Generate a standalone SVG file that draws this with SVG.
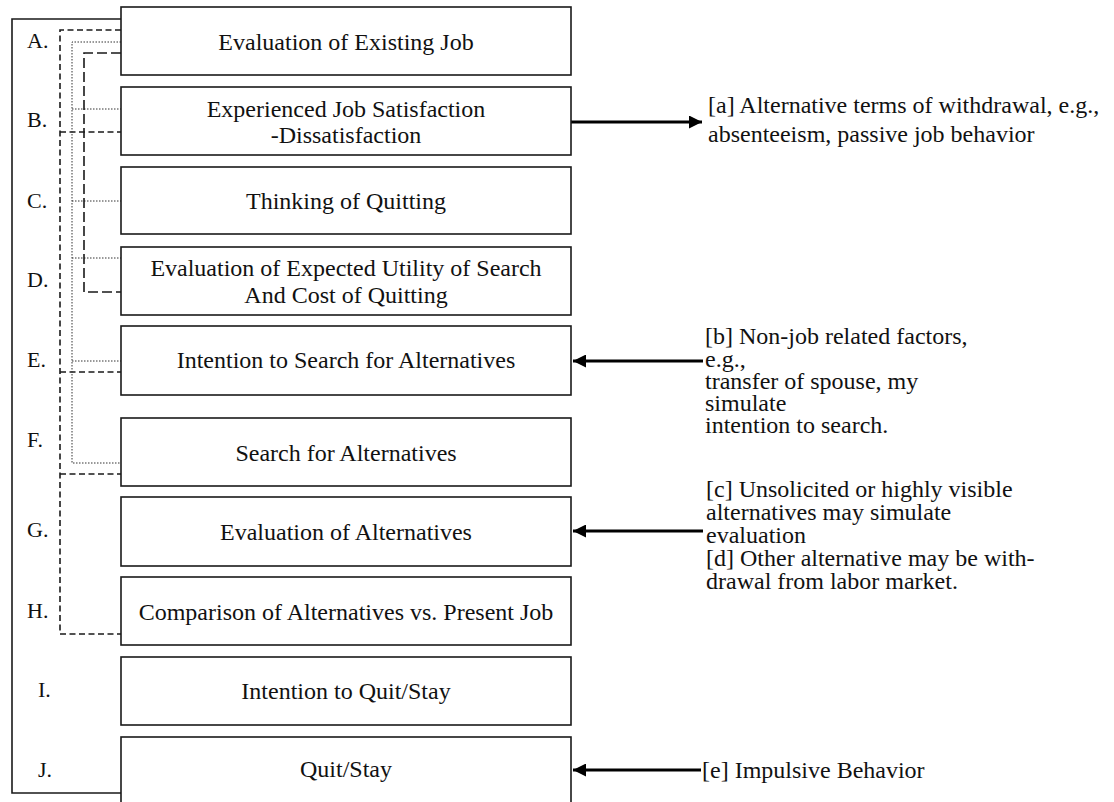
<svg xmlns="http://www.w3.org/2000/svg" width="1114" height="802" viewBox="0 0 1114 802">
<defs>
<style>
.box{fill:#fff;stroke:#1a1a1a;stroke-width:1.6}
.t{font-family:"Liberation Serif","Times New Roman",serif;font-size:24px;fill:#111}
.c{text-anchor:middle}
.lab{font-family:"Liberation Serif","Times New Roman",serif;font-size:22px;fill:#111}
.solid{fill:none;stroke:#1a1a1a;stroke-width:1.6}
.dash{fill:none;stroke:#1a1a1a;stroke-width:1.6;stroke-dasharray:6 3.5}
.dot{fill:none;stroke:#333;stroke-width:1;stroke-dasharray:1.5 1.5}
.ldash{fill:none;stroke:#1a1a1a;stroke-width:1.6;stroke-dasharray:10 4}
.arr{fill:none;stroke:#000;stroke-width:3.2}
</style>
<marker id="ah" viewBox="0 0 13 13" refX="13" refY="6.5" markerWidth="13" markerHeight="13" markerUnits="userSpaceOnUse" orient="auto">
<path d="M0,0 L13,6.5 L0,13 Z" fill="#000"/>
</marker>
</defs>
<rect width="1114" height="802" fill="#fff"/>
<g id="connectors">
<path class="solid" d="M121,19 H12 V793 H121"/>
<path class="dash" d="M121,30 H60 V634 H121"/>
<path class="dash" d="M60,132 H121"/>
<path class="dash" d="M60,372 H121"/>
<path class="dash" d="M60,474 H121"/>
<path class="dot" d="M121,42 H72 V463 H121"/>
<path class="dot" d="M72,109 H121"/>
<path class="dot" d="M72,201 H121"/>
<path class="dot" d="M72,258 H121"/>
<path class="dot" d="M72,361 H121"/>
<path class="ldash" d="M121,53 H84 V292 H121"/>
<path class="arr" d="M571,122 H702" marker-end="url(#ah)"/>
<path class="arr" d="M703,361 H573" marker-end="url(#ah)"/>
<path class="arr" d="M703,531 H573" marker-end="url(#ah)"/>
<path class="arr" d="M701,770 H573" marker-end="url(#ah)"/>
</g>
<g id="labels">
<text class="lab" x="27" y="48">A.</text>
<text class="lab" x="27" y="127">B.</text>
<text class="lab" x="27" y="208">C.</text>
<text class="lab" x="27" y="287">D.</text>
<text class="lab" x="27" y="367">E.</text>
<text class="lab" x="27" y="447">F.</text>
<text class="lab" x="27" y="537">G.</text>
<text class="lab" x="27" y="618">H.</text>
<text class="lab" x="38" y="697">I.</text>
<text class="lab" x="38" y="777">J.</text>
</g>
<g id="nodeA"><rect class="box" x="121" y="7" width="450" height="68"/><text class="t c" x="346" y="50">Evaluation of Existing Job</text></g>
<g id="nodeB"><rect class="box" x="121" y="87" width="450" height="68"/><text class="t c" x="346" y="117">Experienced Job Satisfaction</text><text class="t c" x="346" y="143">-Dissatisfaction</text></g>
<g id="nodeC"><rect class="box" x="121" y="167" width="450" height="67"/><text class="t c" x="346" y="209">Thinking of Quitting</text></g>
<g id="nodeD"><rect class="box" x="121" y="247" width="450" height="68"/><text class="t c" x="346" y="276">Evaluation of Expected Utility of Search</text><text class="t c" x="346" y="303">And Cost of Quitting</text></g>
<g id="nodeE"><rect class="box" x="121" y="326" width="450" height="69"/><text class="t c" x="346" y="368">Intention to Search for Alternatives</text></g>
<g id="nodeF"><rect class="box" x="121" y="418" width="450" height="68"/><text class="t c" x="346" y="461">Search for Alternatives</text></g>
<g id="nodeG"><rect class="box" x="121" y="497" width="450" height="69"/><text class="t c" x="346" y="540">Evaluation of Alternatives</text></g>
<g id="nodeH"><rect class="box" x="121" y="577" width="450" height="68"/><text class="t c" x="346" y="620">Comparison of Alternatives vs. Present Job</text></g>
<g id="nodeI"><rect class="box" x="121" y="657" width="450" height="68"/><text class="t c" x="346" y="699">Intention to Quit/Stay</text></g>
<g id="nodeJ"><rect class="box" x="121" y="737" width="450" height="80"/><text class="t c" x="346" y="777">Quit/Stay</text></g>
<g id="noteA">
<text class="t" x="708" y="113">[a]  Alternative terms of withdrawal, e.g.,</text>
<text class="t" x="708" y="142">absenteeism, passive job behavior</text>
</g>
<g id="noteB">
<text class="t" x="705" y="344">[b] Non-job related factors,</text>
<text class="t" x="705" y="367">e.g.,</text>
<text class="t" x="705" y="389">transfer of spouse, my</text>
<text class="t" x="705" y="411">simulate</text>
<text class="t" x="705" y="433">intention to search.</text>
</g>
<g id="noteC">
<text class="t" x="706" y="497">[c] Unsolicited or highly visible</text>
<text class="t" x="706" y="520">alternatives may simulate</text>
<text class="t" x="706" y="543">evaluation</text>
<text class="t" x="706" y="566">[d] Other alternative may be with-</text>
<text class="t" x="706" y="589">drawal from labor market.</text>
</g>
<g id="noteE">
<text class="t" x="702" y="778">[e] Impulsive Behavior</text>
</g>
</svg>
